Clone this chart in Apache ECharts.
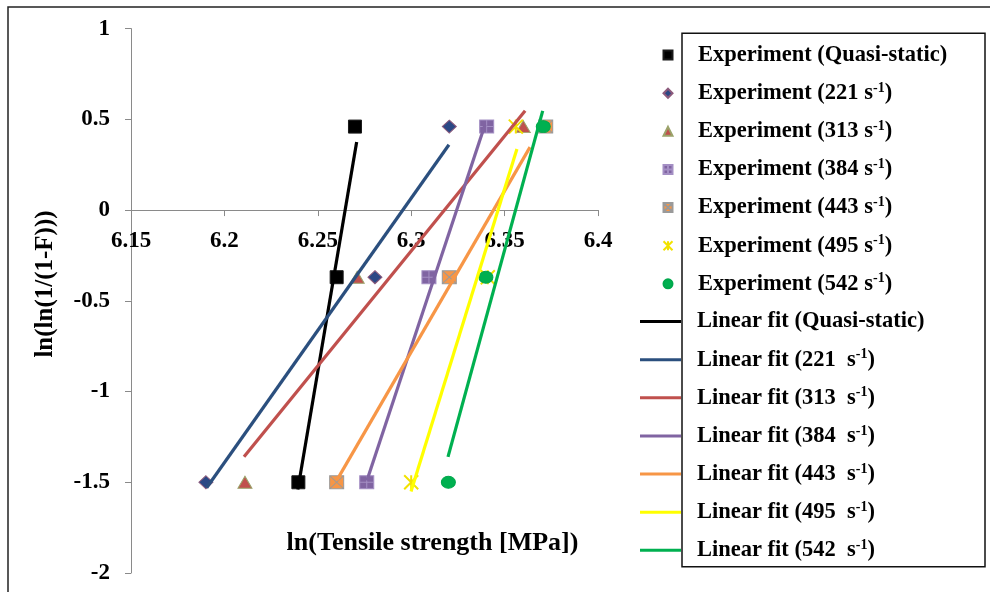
<!DOCTYPE html>
<html>
<head>
<meta charset="utf-8">
<script src="https://cdn.jsdelivr.net/npm/echarts@6/dist/echarts.min.js"></script>
<style>
  html, body { margin: 0; padding: 0; background: #fff; }
  #chart { width: 990px; height: 592px; }
</style>
</head>
<body>
<div id="chart"></div>
<script>
// Weibull plot levels ln(ln(1/(1-F))) shared by every strain-rate group
const levels = [-1.5, -0.37, 0.46];

// ln(tensile strength) of each specimen, one array per strain rate
const qsX   = [6.2396, 6.2601, 6.2699];
const r221X = [6.1901, 6.2806, 6.3204];
const r313X = [6.2110, 6.2711, 6.3600];
const r384X = [6.2762, 6.3095, 6.3404];
const r443X = [6.2601, 6.3204, 6.3720];
const r495X = [6.3000, 6.3410, 6.3560];
const r542X = [6.3199, 6.3400, 6.3707];

// end points [x, y] of the fitted straight lines
const fitQS  = [[6.2393, -1.54], [6.2708, 0.375]];
const fit221 = [[6.1905, -1.53], [6.3202, 0.36]];
const fit313 = [[6.2105, -1.36], [6.3610, 0.547]];
const fit384 = [[6.2763, -1.49], [6.3395, 0.47]];
const fit443 = [[6.2603, -1.487], [6.3636, 0.347]];
const fit495 = [[6.2999, -1.551], [6.3566, 0.336]];
const fit542 = [[6.3197, -1.36], [6.3704, 0.547]];

// axis tick settings
const xTicks = { min: 6.15, max: 6.4, step: 0.05 };
const yTicks = { min: -2, max: 1, step: 0.5 };

const rateLabels = ['Quasi-static', '221 s-1', '313 s-1', '384 s-1', '443 s-1', '495 s-1', '542 s-1'];
const expNames = rateLabels.map(r => 'Experiment (' + r + ')');
const fitNames = rateLabels.map(r => 'Linear fit (' + r.replace(' s-1', '  s-1') + ')');

const FONT = 'Liberation Serif';

const markerStyles = [
  { symbol: 'rect', size: [13, 13], itemStyle: { color: '#000000', borderColor: '#1a1a1a', borderWidth: 1 } },
  { symbol: 'diamond', size: [14, 13], itemStyle: { color: '#2B4885', borderColor: '#8C5A7C', borderWidth: 1 } },
  { symbol: 'triangle', size: [14, 12], itemStyle: { color: '#C0504D', borderColor: '#9BA36A', borderWidth: 1 } },
  { symbol: 'path://M0,0L10,0L10,10L0,10Z M5,0L5,10 M0,5L10,5', size: [14, 13], itemStyle: { color: '#8064A2', borderColor: '#A48FC4', borderWidth: 1 } },
  { symbol: 'path://M0,0L10,0L10,10L0,10Z M0,0L10,10 M10,0L0,10', size: [14, 13], itemStyle: { color: '#F79646', borderColor: '#9A9A9A', borderWidth: 1 } },
  { symbol: 'path://M0,0L10,10 M10,0L0,10 M5,0L5,10', size: [14, 14], itemStyle: { color: '#FFFF00', borderColor: '#F2E200', borderWidth: 2 } },
  { symbol: 'circle', size: [14, 12], itemStyle: { color: '#00B050', borderColor: '#00A84C', borderWidth: 1 } }
];
const lineColors = ['#000000', '#2B4F7E', '#C0504D', '#8064A2', '#F79646', '#FFFF00', '#00B050'];

const groupsX = [qsX, r221X, r313X, r384X, r443X, r495X, r542X];
const fits = [fitQS, fit221, fit313, fit384, fit443, fit495, fit542];

const series = [];
groupsX.forEach((xs, i) => {
  series.push({
    name: expNames[i],
    type: 'scatter',
    symbol: markerStyles[i].symbol,
    symbolSize: markerStyles[i].size,
    itemStyle: Object.assign({ opacity: 1 }, markerStyles[i].itemStyle),
    data: xs.map((x, k) => [x, levels[k]]),
    z: 2
  });
});
fits.forEach((pts, i) => {
  series.push({
    name: fitNames[i],
    type: 'line',
    symbol: 'none',
    showSymbol: false,
    lineStyle: { color: lineColors[i], width: 3.2 },
    itemStyle: { color: lineColors[i] },
    data: pts,
    z: 3
  });
});

function richName(name) {
  const m = name.match(/^(.*)s-1\)$/);
  if (m) return '{g| }{t|' + m[1] + 's}{sup|-1}{t|)}';
  return '{g| }{t|' + name + '}';
}
function richStyles(spacer) {
  return {
    g: { width: spacer, fontSize: 22, lineHeight: 24 },
    t: { fontFamily: FONT, fontWeight: 'bold', fontSize: 22.5, lineHeight: 24, color: '#000' },
    sup: { fontFamily: FONT, fontWeight: 'bold', fontSize: 14, lineHeight: 14, verticalAlign: 'top', color: '#000' }
  };
}

// plot area
const gridBox = { left: 131, top: 28.6, width: 467, height: 544.4 };
// the horizontal axis crosses the vertical axis at y = 0
const zeroOffset = -gridBox.height * (0 - yTicks.min) / (yTicks.max - yTicks.min);

const chart = echarts.init(document.getElementById('chart'), null, { renderer: 'canvas' });
chart.setOption({
  animation: false,
  backgroundColor: '#ffffff',
  grid: Object.assign({ containLabel: false, outerBoundsMode: 'none' }, gridBox),
  xAxis: {
    type: 'value',
    position: 'bottom',
    offset: zeroOffset,
    min: xTicks.min, max: xTicks.max, interval: xTicks.step,
    axisLine: { onZero: false, lineStyle: { color: '#8a8a8a', width: 1 } },
    axisTick: { show: true, inside: false, length: 6, lineStyle: { color: '#8a8a8a' } },
    axisLabel: { margin: 19, fontFamily: FONT, fontWeight: 'bold', fontSize: 23, color: '#000' },
    splitLine: { show: false }
  },
  yAxis: {
    type: 'value',
    min: yTicks.min, max: yTicks.max, interval: yTicks.step,
    axisLine: { show: true, onZero: false, lineStyle: { color: '#8a8a8a', width: 1 } },
    axisTick: { show: true, inside: false, length: 6, lineStyle: { color: '#8a8a8a' } },
    axisLabel: { margin: 21, fontFamily: FONT, fontWeight: 'bold', fontSize: 23, color: '#000' },
    splitLine: { show: false }
  },
  legend: [
    {
      data: expNames,
      orient: 'vertical',
      left: 662.5, top: 43.6,
      padding: 0,
      itemWidth: 9, itemHeight: 9,
      itemGap: 14.62,
      selectedMode: false,
      formatter: n => richName(n),
      textStyle: { rich: richStyles(20.5) }
    },
    {
      data: fitNames,
      orient: 'vertical',
      left: 640, top: 310.1,
      padding: 0,
      icon: 'rect',
      itemWidth: 41, itemHeight: 3,
      itemGap: 14.62,
      selectedMode: false,
      formatter: n => richName(n),
      textStyle: { rich: richStyles(11) }
    }
  ],
  graphic: [
    { type: 'rect', shape: { x: 8, y: 7, width: 1000, height: 600 }, style: { fill: null, stroke: '#222', lineWidth: 1.5 }, silent: true, z: -1 },
    { type: 'rect', shape: { x: 682, y: 33.3, width: 303, height: 533.4 }, style: { fill: null, stroke: '#111', lineWidth: 1.5 }, silent: true },
    { type: 'text', x: 432.5, y: 543, style: { text: 'ln(Tensile strength [MPa])', fontFamily: FONT, fontWeight: 'bold', fontSize: 26, fill: '#000', textAlign: 'center', textVerticalAlign: 'middle' }, silent: true },
    { type: 'text', x: 46, y: 284, rotation: Math.PI / 2, style: { text: 'ln(ln(1/(1-F)))', fontFamily: FONT, fontWeight: 'bold', fontSize: 25, fill: '#000', textAlign: 'center', textVerticalAlign: 'middle' }, silent: true }
  ],
  series: series
});
</script>
</body>
</html>
